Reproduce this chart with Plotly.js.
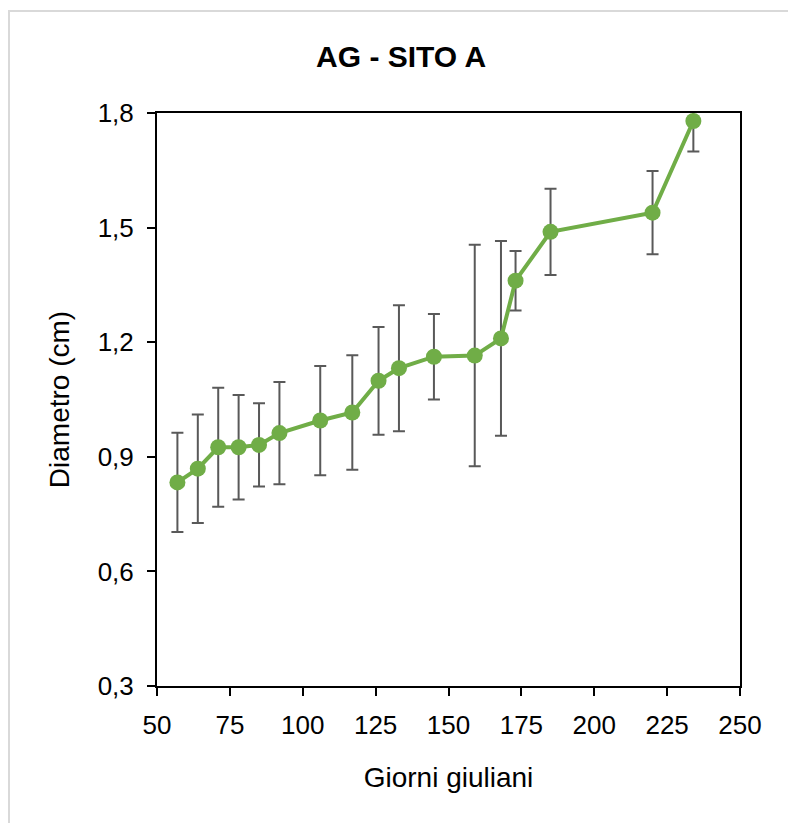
<!DOCTYPE html>
<html>
<head>
<meta charset="utf-8">
<script src="https://cdn.plot.ly/plotly-3.0.1.min.js"></script>
<style>
  html, body { margin: 0; padding: 0; background: #ffffff; }
  #wrap { position: relative; width: 788px; height: 823px; overflow: hidden; }
  #chart { position: absolute; left: 0; top: 0; width: 788px; height: 823px; }
  #frame { position: absolute; left: 8px; top: 10px; width: 800px; height: 840px;
           border: 2px solid #d9d9d9; box-sizing: border-box; pointer-events: none; }
</style>
</head>
<body>
<div id="wrap">
  <div id="chart"></div>
  <div id="frame"></div>
</div>
<script>
// Julian day of each measurement
const giorni = [57, 64, 71, 78, 85, 92, 106, 117, 126, 133, 145, 159, 168, 173, 185, 220, 234];
// Mean diameter (cm)
const diametro = [0.833, 0.869, 0.925, 0.925, 0.931, 0.962, 0.995, 1.016, 1.099, 1.132, 1.162, 1.165, 1.210, 1.361, 1.489, 1.539, 1.779];
// Error (± cm)
const errore = [0.130, 0.142, 0.156, 0.137, 0.109, 0.134, 0.143, 0.150, 0.141, 0.165, 0.112, 0.290, 0.255, 0.078, 0.113, 0.109, 0.080];

const xTicks = [50, 75, 100, 125, 150, 175, 200, 225, 250];
const yTicks = [0.3, 0.6, 0.9, 1.2, 1.5, 1.8];
const yTickText = ['0,3', '0,6', '0,9', '1,2', '1,5', '1,8'];

const FONT = '"Liberation Sans", Arial, sans-serif';

const trace = {
  x: giorni,
  y: diametro,
  type: 'scatter',
  mode: 'lines+markers',
  line: { color: '#70AD47', width: 4 },
  marker: { color: '#70AD47', size: 16 },
  error_y: { type: 'data', array: errore, visible: true, color: '#595959', thickness: 2, width: 6 },
  hoverinfo: 'x+y',
  cliponaxis: true
};

const layout = {
  width: 788,
  height: 823,
  margin: { l: 157, r: 48, t: 113, b: 137, pad: 0 },
  paper_bgcolor: 'rgba(0,0,0,0)',
  plot_bgcolor: '#ffffff',
  showlegend: false,
  font: { family: FONT, color: '#000000', size: 24 },
  title: {
    text: '<b>AG - SITO A</b>',
    font: { family: FONT, size: 30, color: '#000000' },
    x: 0.509, xref: 'container', xanchor: 'center',
    y: 55, yref: 'container', yanchor: 'middle'
  },
  xaxis: {
    range: [50, 250],
    tickmode: 'array',
    tickvals: xTicks,
    ticktext: xTicks.map(String),
    ticks: 'outside', ticklen: 8, tickwidth: 2, tickcolor: '#000000',
    showline: true, linecolor: '#000000', linewidth: 2, mirror: true,
    showgrid: false, zeroline: false,
    ticklabelstandoff: 7,
    tickfont: { family: FONT, size: 26, color: '#000000' },
    title: { text: 'Giorni giuliani', font: { family: FONT, size: 28, color: '#000000' }, standoff: 28 }
  },
  yaxis: {
    range: [0.3, 1.8],
    tickmode: 'array',
    tickvals: yTicks,
    ticktext: yTickText,
    ticks: 'outside', ticklen: 8, tickwidth: 2, tickcolor: '#000000',
    showline: true, linecolor: '#000000', linewidth: 2, mirror: true,
    showgrid: false, zeroline: false,
    ticklabelstandoff: 8,
    tickfont: { family: FONT, size: 26, color: '#000000' },
    title: { text: 'Diametro (cm)', font: { family: FONT, size: 28, color: '#000000' }, standoff: 20 }
  }
};

Plotly.newPlot('chart', [trace], layout, { displayModeBar: false, staticPlot: true });
</script>
</body>
</html>
